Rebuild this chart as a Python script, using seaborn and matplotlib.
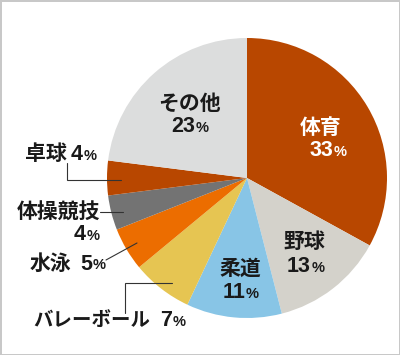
import matplotlib
matplotlib.use("Agg")
import matplotlib.pyplot as plt
import seaborn as sns

# データ（時計回り、12時の位置から）
labels = ["体育", "野球", "柔道", "バレーボール", "水泳", "体操競技", "卓球", "その他"]
values = [33, 13, 11, 7, 5, 4, 4, 23]
colors = ["#b84700", "#d4d2cb", "#88c5e6", "#e6c552", "#ec6d00", "#737373", "#b84700", "#dcdddd"]

sns.set_theme(style="white")
plt.rcParams['font.family'] = ['Noto Sans CJK JP', 'DejaVu Sans']

W, H = 400, 355
fig = plt.figure(figsize=(W / 100, H / 100), dpi=100)
fig.patch.set_facecolor("white")
fig.patch.set_edgecolor("#c8c8c8")
fig.patch.set_linewidth(2)
ax = fig.add_axes([0, 0, 1, 1])


def Y(y):
    return H - y


ax.pie(values, colors=sns.color_palette(colors), startangle=90, counterclock=False,
       center=(247, Y(178)), radius=140, wedgeprops=dict(linewidth=0))
ax.set_xlim(0, W)
ax.set_ylim(0, H)
ax.set_aspect("auto")
ax.axis("off")

dark = "#1a1a1a"
NAME_FS = 15
NUM_FS = 15.5
PCT_FS = 10.5
NUM_FONT = ["Liberation Sans", "DejaVu Sans"]


def pct(x, y, num, color, ha="right"):
    # 数字 + 小さめの「%」
    t = ax.text(x, Y(y), num, ha=ha, va="center", fontsize=NUM_FS,
                fontweight="bold", color=color, family=NUM_FONT)
    ax.annotate("%", xy=(1.03, 0.12), xycoords=t, ha="left", va="bottom",
                fontsize=PCT_FS, fontweight="bold", color=color, family=NUM_FONT)
    return t


def name(x, y, s, color, ha="center", fs=NAME_FS):
    return ax.text(x, Y(y), s, ha=ha, va="center", fontsize=fs,
                   fontweight="bold", color=color)


# 円内ラベル
inner = [
    ("体育", 321, 127, 333, 151, "white"),
    ("その他", 189, 103, 195, 127, dark),
    ("野球", 304, 242, 311, 267, dark),
    ("柔道", 240, 268, 245, 293, dark),
]
for s, nx, ny, px, py, c in inner:
    name(nx, ny, s, c)
    pct(px, py, str(values[labels.index(s)]), c)

# 円外ラベル
name(67, 154, "卓球", dark, ha="right")
pct(83, 155, str(values[labels.index("卓球")]), dark)
name(100, 212, "体操競技", dark, ha="right")
pct(86, 235, str(values[labels.index("体操競技")]), dark)
name(71, 263, "水泳", dark, ha="right")
pct(92, 264, str(values[labels.index("水泳")]), dark)
name(150, 320, "バレーボール", dark, ha="right", fs=14)
pct(172, 321, str(values[labels.index("バレーボール")]), dark)

# 引き出し線
lines = [
    [(67, 163), (67, 180), (121, 180)],
    [(100, 212), (123, 212)],
    [(106, 260), (137, 243)],
    [(125, 313), (125, 283), (172, 283)],
]
for pts in lines:
    ax.plot([p[0] for p in pts], [Y(p[1]) for p in pts], color="#333333", lw=0.8,
            solid_joinstyle="miter")

fig.savefig("out.png", dpi=100, facecolor=fig.get_facecolor(), edgecolor=fig.get_edgecolor())
